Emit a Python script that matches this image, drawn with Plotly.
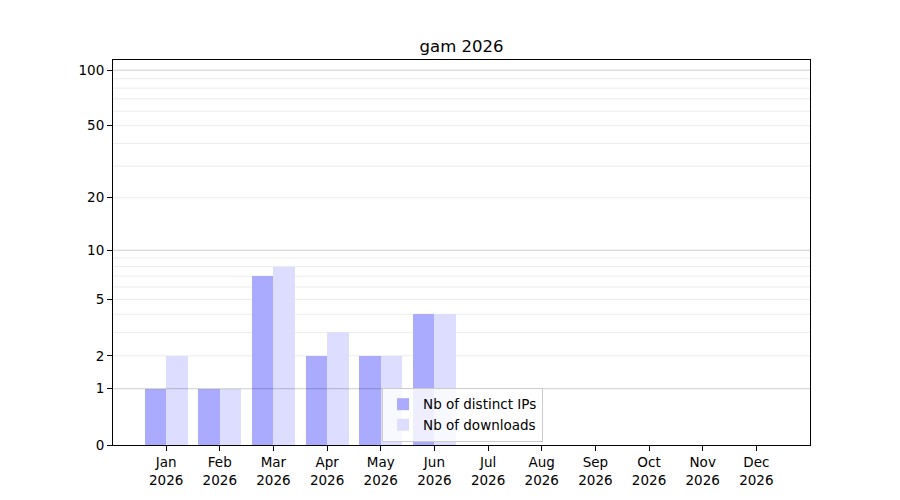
import numpy as np
import plotly.graph_objects as go

months = ["Jan", "Feb", "Mar", "Apr", "May", "Jun", "Jul", "Aug", "Sep", "Oct", "Nov", "Dec"]
year = "2026"
distinct_ips = [1, 1, 7, 2, 2, 4, 0, 0, 0, 0, 0, 0]
downloads = [2, 1, 8, 3, 2, 4, 0, 0, 0, 0, 0, 0]
tick_values = [0, 1, 2, 5, 10, 20, 50, 100]
major_grid = [1, 10, 100]
minor_grid = [2, 3, 4, 5, 6, 7, 8, 9, 20, 30, 40, 50, 60, 70, 80, 90]
y_top = 113.5

def f(v):
    return np.log10(1 + np.asarray(v, dtype=float))

x = np.arange(len(months))
labels = [f"{m}<br>{year}" for m in months]

fig = go.Figure()
fig.add_trace(go.Bar(x=x - 0.2, y=f(distinct_ips), width=0.4, name="Nb of distinct IPs",
                     marker=dict(color="#aaaaff", line=dict(width=0))))
fig.add_trace(go.Bar(x=x + 0.2, y=f(downloads), width=0.4, name="Nb of downloads",
                     marker=dict(color="#ddddff", line=dict(width=0))))

shapes = []
for v in minor_grid:
    shapes.append(dict(type="line", xref="paper", yref="y", x0=0, x1=1, y0=float(f(v)), y1=float(f(v)),
                       line=dict(color="#ececec", width=1), layer="below"))
for v in major_grid:
    shapes.append(dict(type="line", xref="paper", yref="y", x0=0, x1=1, y0=float(f(v)), y1=float(f(v)),
                       line=dict(color="rgba(0,0,0,0.2)", width=1), layer="above"))

fig.update_layout(
    width=900, height=500,
    margin=dict(l=105, r=98, t=52, b=63),
    paper_bgcolor="white", plot_bgcolor="white",
    font=dict(family="DejaVu Sans", size=13.5, color="black"),
    title=dict(text="gam 2026", x=0.5, xref="paper", xanchor="center", y=1 - 38 / 500, yanchor="middle",
               font=dict(size=16.5, family="DejaVu Sans")),
    bargap=0, barmode="overlay",
    shapes=shapes,
    showlegend=True,
    legend=dict(x=0.386, y=0.008, xanchor="left", yanchor="bottom",
                bgcolor="rgba(255,255,255,0.8)", bordercolor="#cccccc", borderwidth=1,
                font=dict(size=13.5), tracegroupgap=0),
    xaxis=dict(range=[-0.99, 12.0], tickvals=list(x), ticktext=labels, showgrid=False,
               ticks="outside", ticklen=5, tickcolor="black", showline=True, linecolor="black",
               linewidth=1, mirror=True, zeroline=False),
    yaxis=dict(range=[0, float(f(y_top))], tickvals=[float(v) for v in f(tick_values)],
               ticktext=[str(v) for v in tick_values], showgrid=False,
               ticks="outside", ticklen=5, tickcolor="black", showline=True, linecolor="black",
               linewidth=1, mirror=True, zeroline=False),
)

fig.write_html("out.html")
